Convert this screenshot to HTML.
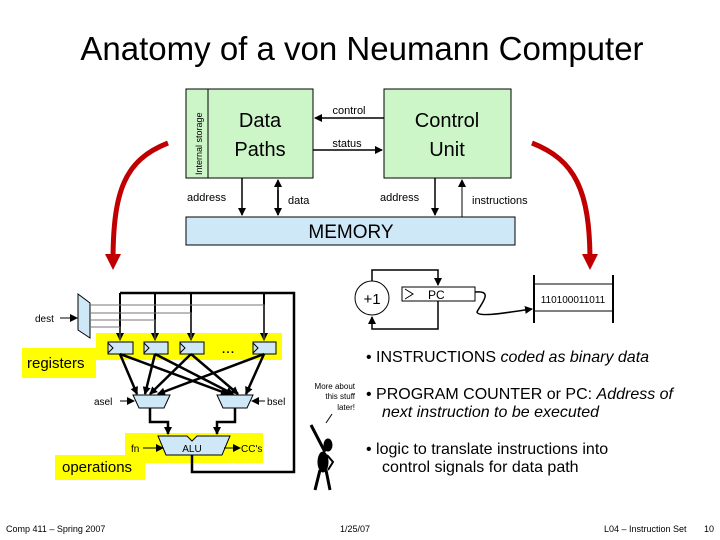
<!DOCTYPE html>
<html><head><meta charset="utf-8"><style>
body{margin:0;background:#fff}
svg{display:block}
text{font-family:"Liberation Sans",sans-serif;fill:#000}
</style></head><body>
<svg width="720" height="540" viewBox="0 0 720 540" xmlns="http://www.w3.org/2000/svg">
<defs>
<marker id="a" markerWidth="8" markerHeight="8" refX="7" refY="4" orient="auto" markerUnits="userSpaceOnUse"><path d="M0,0 L8,4 L0,8z" fill="#000"/></marker>
<marker id="r" markerWidth="16" markerHeight="16" refX="8" refY="8" orient="auto" markerUnits="userSpaceOnUse"><path d="M0,0 L16,8 L0,16z" fill="#c00000"/></marker>
</defs>
<text x="362" y="60" font-size="33" text-anchor="middle">Anatomy of a von Neumann Computer</text>
<path d="M168,143 C125,160 113,190 113,262" stroke="#c00000" stroke-width="5" fill="none" marker-end="url(#r)"/>
<path d="M532,143 C575,160 590,190 590,262" stroke="#c00000" stroke-width="5" fill="none" marker-end="url(#r)"/>
<rect x="186" y="89" width="127" height="89" fill="#ccf5c8" stroke="#000"/>
<line x1="208" y1="89" x2="208" y2="178" stroke="#000"/>
<text transform="translate(202,175) rotate(-90)" font-size="9">Internal storage</text>
<text x="260" y="127" font-size="20" text-anchor="middle">Data</text>
<text x="260" y="156" font-size="20" text-anchor="middle">Paths</text>
<rect x="384" y="89" width="127" height="89" fill="#ccf5c8" stroke="#000"/>
<text x="447" y="127" font-size="20" text-anchor="middle">Control</text>
<text x="447" y="156" font-size="20" text-anchor="middle">Unit</text>
<line x1="384" y1="118" x2="315" y2="118" stroke="#000" stroke-width="1.5" marker-end="url(#a)"/>
<text x="349" y="114" font-size="11" text-anchor="middle">control</text>
<line x1="313" y1="150" x2="382" y2="150" stroke="#000" stroke-width="1.5" marker-end="url(#a)"/>
<text x="347" y="147" font-size="11" text-anchor="middle">status</text>
<rect x="186" y="217" width="329" height="28" fill="#cfe8f8" stroke="#000"/>
<text x="351" y="238" font-size="19" text-anchor="middle">MEMORY</text>
<line x1="242" y1="178" x2="242" y2="215" stroke="#000" stroke-width="1.5" marker-end="url(#a)"/>
<line x1="278" y1="215" x2="278" y2="180" stroke="#000" stroke-width="1.5" marker-end="url(#a)"/>
<line x1="278" y1="190" x2="278" y2="215" stroke="#000" stroke-width="1.5" marker-end="url(#a)"/>
<line x1="435" y1="178" x2="435" y2="215" stroke="#000" stroke-width="1.5" marker-end="url(#a)"/>
<line x1="462" y1="217" x2="462" y2="180" stroke="#000" stroke-width="1" marker-end="url(#a)"/>
<text x="187" y="201" font-size="11">address</text>
<text x="288" y="204" font-size="11">data</text>
<text x="380" y="201" font-size="11">address</text>
<text x="472" y="204" font-size="11">instructions</text>
<circle cx="372" cy="298" r="17" fill="#fff" stroke="#000"/>
<text x="372" y="304" font-size="15" text-anchor="middle">+1</text>
<rect x="402" y="287" width="73" height="14" fill="#fff" stroke="#000"/>
<path d="M405,289 L413,294 L405,299" fill="none" stroke="#000"/>
<text x="428" y="299" font-size="12">PC</text>
<path d="M372,281 L372,270 L438,270 L438,285" fill="none" stroke="#000" stroke-width="1.5" marker-end="url(#a)"/>
<path d="M438,301 L438,329 L372,329 L372,317" fill="none" stroke="#000" stroke-width="1.5" marker-end="url(#a)"/>
<path d="M475,292 C495,290 480,305 477,312 C478,318 510,312 532,309" fill="none" stroke="#000" stroke-width="1.5" marker-end="url(#a)"/>
<line x1="534" y1="275" x2="534" y2="323" stroke="#000" stroke-width="2"/>
<line x1="613" y1="275" x2="613" y2="323" stroke="#000" stroke-width="2"/>
<line x1="534" y1="284" x2="613" y2="284" stroke="#000"/>
<line x1="534" y1="311" x2="613" y2="311" stroke="#000"/>
<text x="573" y="303" font-size="10" text-anchor="middle">110100011011</text>
<rect x="96" y="333" width="186" height="27" fill="#ffff00"/>
<rect x="22" y="348" width="74" height="30" fill="#ffff00"/>
<rect x="125" y="433" width="138" height="30" fill="#ffff00"/>
<rect x="55" y="455" width="90" height="25" fill="#ffff00"/>
<text x="27" y="368" font-size="15">registers</text>
<text x="62" y="472" font-size="15">operations</text>
<path d="M192,455 L192,472 L294,472 L294,293 L120,293" fill="none" stroke="#000" stroke-width="2.5"/>
<g stroke="#000" stroke-width="2" marker-end="url(#a)">
<line x1="120" y1="293" x2="120" y2="340"/><line x1="155" y1="293" x2="155" y2="340"/>
<line x1="191" y1="293" x2="191" y2="340"/><line x1="264" y1="293" x2="264" y2="340"/>
</g>
<polygon points="78,294 90,303 90,338 78,330" fill="#cfe8f8" stroke="#000"/>
<line x1="60" y1="318" x2="77" y2="318" stroke="#000" marker-end="url(#a)"/>
<text x="35" y="322" font-size="10">dest</text>
<g stroke="#777" fill="none">
<path d="M90,305 L264,305 L264,340"/><path d="M90,313 L191,313 L191,340"/>
<path d="M90,320 L155,320 L155,340"/><path d="M90,327 L120,327 L120,340"/>
</g>
<g fill="#cfe8f8" stroke="#000">
<rect x="108" y="342" width="25" height="12"/><rect x="144" y="342" width="24" height="12"/>
<rect x="180" y="342" width="24" height="12"/><rect x="253" y="342" width="23" height="12"/>
</g>
<g fill="none" stroke="#000"><path d="M108,343 L113,348 L108,353"/><path d="M144,343 L149,348 L144,353"/><path d="M180,343 L185,348 L180,353"/><path d="M253,343 L258,348 L253,353"/></g>
<text x="228" y="353" font-size="16" text-anchor="middle">...</text>
<g stroke="#000" stroke-width="2.5" marker-end="url(#a)">
<line x1="120" y1="354" x2="137" y2="394"/><line x1="155" y1="354" x2="145" y2="394"/>
<line x1="191" y1="354" x2="150" y2="394"/><line x1="264" y1="354" x2="158" y2="394"/>
<line x1="120" y1="354" x2="228" y2="394"/><line x1="155" y1="354" x2="233" y2="394"/>
<line x1="191" y1="354" x2="238" y2="394"/><line x1="264" y1="354" x2="246" y2="394"/>
</g>
<polygon points="133,395 170,395 164,408 139,408" fill="#cfe8f8" stroke="#000"/>
<polygon points="217,395 253,395 247,408 223,408" fill="#cfe8f8" stroke="#000"/>
<line x1="120" y1="401" x2="134" y2="401" stroke="#000" marker-end="url(#a)"/>
<line x1="265" y1="401" x2="252" y2="401" stroke="#000" marker-end="url(#a)"/>
<text x="94" y="405" font-size="10">asel</text>
<text x="267" y="405" font-size="10">bsel</text>
<path d="M150,408 L150,422 L168,422 L168,434" fill="none" stroke="#000" stroke-width="2.5" marker-end="url(#a)"/>
<path d="M235,408 L235,422 L217,422 L217,434" fill="none" stroke="#000" stroke-width="2.5" marker-end="url(#a)"/>
<polygon points="158,436 187,436 192,441 197,436 230,436 222,455 166,455" fill="#cfe8f8" stroke="#000"/>
<text x="192" y="452" font-size="10" text-anchor="middle">ALU</text>
<line x1="143" y1="448" x2="163" y2="448" stroke="#000" marker-end="url(#a)"/>
<text x="131" y="452" font-size="10">fn</text>
<line x1="224" y1="448" x2="240" y2="448" stroke="#000" marker-end="url(#a)"/>
<text x="241" y="452" font-size="10">CC's</text>
<text x="355" y="389" font-size="8" text-anchor="end">More about</text>
<text x="355" y="399" font-size="8" text-anchor="end">this stuff</text>
<text x="355" y="410" font-size="8" text-anchor="end">later!</text>
<line x1="332" y1="414" x2="326" y2="423" stroke="#000"/>
<g fill="#000" stroke="#000">
<line x1="311" y1="425" x2="325" y2="452" stroke-width="3"/>
<ellipse cx="328" cy="445" rx="4" ry="6"/>
<ellipse cx="323" cy="462" rx="5" ry="10"/>
<line x1="320" y1="470" x2="315" y2="490" stroke-width="3"/>
<line x1="326" y1="470" x2="330" y2="490" stroke-width="3"/>
<path d="M327,455 L333,462 L328,470" fill="none" stroke-width="2"/>
</g>
<g font-size="16">
<text x="366" y="362">• INSTRUCTIONS <tspan font-style="italic">coded as binary data</tspan></text>
<text x="366" y="399">• PROGRAM COUNTER or PC: <tspan font-style="italic">Address of</tspan></text>
<text x="382" y="417" font-style="italic">next instruction to be executed</text>
<text x="366" y="454">• logic to translate instructions into</text>
<text x="382" y="472">control signals for data path</text>
</g>
<g font-size="9">
<text x="6" y="532">Comp 411 – Spring 2007</text>
<text x="340" y="532">1/25/07</text>
<text x="604" y="532">L04 – Instruction Set</text>
<text x="704" y="532">10</text>
</g>
</svg>
</body></html>
